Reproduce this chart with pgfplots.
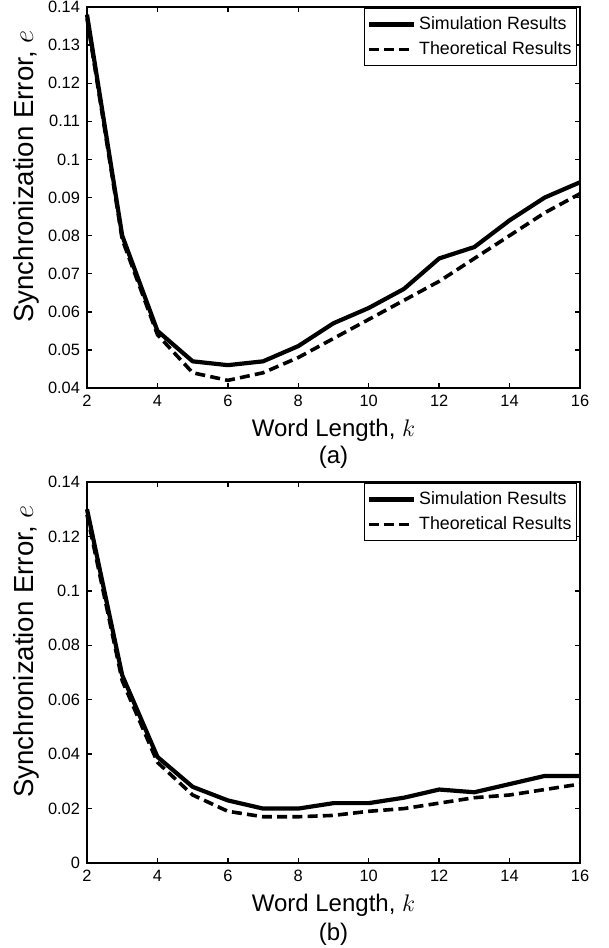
\documentclass[border=0pt]{standalone}
\usepackage{fontspec}
\setmainfont{Liberation Sans}
\usepackage{pgfplots}
\pgfplotsset{compat=1.18}
\usepackage{pgfplotstable}

\pgfplotstableread{
k   sim    theo
2   0.138  0.137
3   0.080  0.079
4   0.055  0.054
5   0.047  0.044
6   0.046  0.042
7   0.047  0.044
8   0.051  0.048
9   0.057  0.053
10  0.061  0.058
11  0.066  0.063
12  0.074  0.068
13  0.077  0.074
14  0.084  0.080
15  0.090  0.086
16  0.094  0.091
}\dataA

\pgfplotstableread{
k   sim    theo
2   0.130  0.128
3   0.069  0.067
4   0.039  0.037
5   0.028  0.025
6   0.023  0.019
7   0.020  0.017
8   0.020  0.017
9   0.022  0.0175
10  0.022  0.019
11  0.024  0.020
12  0.027  0.022
13  0.026  0.024
14  0.029  0.025
15  0.032  0.027
16  0.032  0.029
}\dataB

\pgfplotsset{
  mystyle/.style={
    width=246.5pt, height=190.5pt, scale only axis,
    anchor=south west,
    clip=false,
    xmin=2, xmax=16,
    xtick={2,4,...,16},
    tick align=inside,
    major tick length=2.5pt,
    axis line style={line width=0.9pt},
    every tick/.style={line width=0.7pt, black},
    tick label style={font=\fontsize{8.2}{9}\selectfont},
    /pgf/number format/assume math mode=true,
    scaled y ticks=false,
    yticklabel style={/pgf/number format/fixed, /pgf/number format/precision=2},
    xlabel={Word Length, $k$},
    ylabel={Synchronization Error, $e$},
    xlabel style={font=\fontsize{12}{14}\selectfont, at={(axis description cs:0.5,-0.128)}, anchor=base},
    ylabel style={font=\fontsize{13.8}{16}\selectfont, at={(axis description cs:-0.124,0.555)}, anchor=center},
    legend cell align=left,
    legend style={at={(rel axis cs:1,1)}, anchor=north east, xshift=-1.5pt, yshift=-0.5pt,
      draw=black, line width=0.5pt, font=\fontsize{8.9}{10}\selectfont,
      inner xsep=1pt, inner ysep=2.5pt, row sep=1.5pt,
      nodes={inner sep=1.5pt}},
    legend image code/.code={\draw[#1] (0pt,0pt) -- (22.5pt,0pt);},
  },
  simline/.style={black, line width=2.1pt, line join=round},
  theoline/.style={black, line width=1.8pt, dash pattern=on 5pt off 2.6pt, line join=round},
}

\begin{document}
\begin{tikzpicture}
\useasboundingbox (0,0) rectangle (304.5pt,-474pt);

\begin{axis}[mystyle, at={(43.5pt,-194pt)},
  ymin=0.04, ymax=0.14, ytick={0.04,0.05,...,0.14}]
\addplot[simline] table[x=k, y=sim] {\dataA};
\addlegendentry{Simulation Results}
\addplot[theoline] table[x=k, y=theo] {\dataA};
\addlegendentry{Theoretical Results}
\node[font=\fontsize{12}{14}\selectfont] at (axis description cs:0.5,-0.181) {(a)};
\end{axis}

\begin{axis}[mystyle, at={(43.5pt,-431.5pt)},
  ymin=0, ymax=0.14, ytick={0,0.02,...,0.14}]
\addplot[simline] table[x=k, y=sim] {\dataB};
\addlegendentry{Simulation Results}
\addplot[theoline] table[x=k, y=theo] {\dataB};
\addlegendentry{Theoretical Results}
\node[font=\fontsize{12}{14}\selectfont] at (axis description cs:0.5,-0.186) {(b)};
\end{axis}
\end{tikzpicture}
\end{document}
